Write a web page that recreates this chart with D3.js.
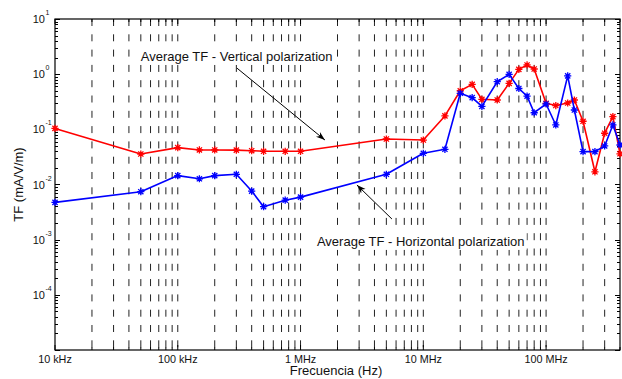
<!DOCTYPE html>
<html><head><meta charset="utf-8">
<script src="https://cdn.jsdelivr.net/npm/d3@7"></script>
<style>body{margin:0;background:#fff}svg{display:block}text{font-family:"Liberation Sans",Arial,sans-serif;fill:#111}</style>
</head><body><svg id="c" width="622" height="379"></svg>
<script>
const freqs = [1e4,5e4,1e5,1.5e5,2e5,3e5,4e5,5e5,7.5e5,1e6,5e6,1e7,1.5e7,2e7,2.5e7,3e7,4e7,5e7,6e7,7e7,8e7,1e8,1.2e8,1.5e8,1.7e8,2e8,2.5e8,3e8,3.5e8,4e8];
const vertical = [0.104,0.0357,0.0466,0.0423,0.0423,0.042,0.041,0.040,0.040,0.040,0.0668,0.064,0.175,0.50,0.654,0.35,0.34,0.68,1.22,1.47,1.24,0.296,0.27,0.30,0.34,0.14,0.017,0.085,0.17,0.036];
const horizontal = [0.00475,0.0074,0.0145,0.0127,0.0145,0.0153,0.0076,0.00396,0.0052,0.0059,0.0153,0.0368,0.0435,0.45,0.375,0.26,0.73,0.99,0.55,0.40,0.20,0.288,0.12,0.93,0.224,0.0394,0.0394,0.050,0.12,0.052];
const xTickVals = [1e4,1e5,1e6,1e7,1e8];
const xTickLabels = ["10 kHz","100 kHz","1 MHz","10 MHz","100 MHz"];
const yExps = [1,0,-1,-2,-3,-4];
const annV = {text:"Average TF - Vertical polarization", at:[5e4,1.75], from:[3.03e5,1.29], to:[1.58e6,0.064]};
const annH = {text:"Average TF - Horizontal polarization", at:[1.36e6,7.7e-4], from:[5.55e6,2.37e-3], to:[2.88e6,0.0098]};

const svg = d3.select("#c");
const L=55,R=620,T=19,B=350;
const x = d3.scaleLog().domain([1e4,4e8]).range([L,R]);
const y = d3.scaleLog().domain([1e-5,10]).range([B,T]);

const xGrid=[];
for(let d=1e4; d<4e8; d*=10){ for(let m=1;m<=9;m++){ const v=d*m; if(v<=4e8) xGrid.push(v);} }
svg.append("g").selectAll("line").data(xGrid.filter(v=>v>1e4&&v<4e8)).join("line")
  .attr("x1",d=>x(d)).attr("x2",d=>x(d)).attr("y1",T).attr("y2",B)
  .attr("stroke","#222").attr("stroke-width",1).attr("stroke-dasharray","7,8.3");

const yTicks=[];
for(let e=-5;e<1;e++){ for(let m=1;m<=9;m++) yTicks.push(m*Math.pow(10,e)); }
yTicks.push(10);
const tk = svg.append("g").attr("stroke","#000").attr("stroke-width",1);
yTicks.forEach(v=>{
  const major = Math.abs(Math.log10(v)-Math.round(Math.log10(v)))<1e-9;
  const len = major?5:3;
  const yy = Math.round(y(v))+0.5;
  tk.append("line").attr("x1",L).attr("x2",L+len).attr("y1",yy).attr("y2",yy);
  tk.append("line").attr("x1",R).attr("x2",R-len).attr("y1",yy).attr("y2",yy);
});
xGrid.forEach(v=>{
  const major = Math.abs(Math.log10(v)-Math.round(Math.log10(v)))<1e-9;
  const len = major?5:3;
  const xx = x(v);
  tk.append("line").attr("x1",xx).attr("x2",xx).attr("y1",B).attr("y2",B-len);
  tk.append("line").attr("x1",xx).attr("x2",xx).attr("y1",T).attr("y2",T+len);
});

svg.append("rect").attr("x",L).attr("y",T).attr("width",R-L).attr("height",B-T)
  .attr("fill","none").attr("stroke","#000").attr("stroke-width",1.2);

svg.append("g").selectAll("text").data(xTickVals).join("text")
  .attr("x",d=>x(d)).attr("y",362.5).attr("text-anchor","middle").attr("font-size",10.8)
  .text((d,i)=>xTickLabels[i]);

const yl = svg.append("g");
yExps.forEach(e=>{
  const yy=y(Math.pow(10,e));
  yl.append("text").attr("x",45).attr("y",yy+4).attr("text-anchor","end").attr("font-size",11).text("10");
  yl.append("text").attr("x",45.5).attr("y",yy-4).attr("font-size",7).text(String(e));
});

svg.append("text").attr("x",336).attr("y",375).attr("text-anchor","middle").attr("font-size",13).text("Frecuencia (Hz)");
svg.append("text").attr("transform",`translate(23,${(T+B)/2}) rotate(-90)`).attr("text-anchor","middle").attr("font-size",13).text("TF (mA/V/m)");

function series(vals,color){
  const pts = freqs.map((f,i)=>[x(f),y(vals[i])]);
  svg.append("path").attr("d",d3.line()(pts)).attr("fill","none").attr("stroke",color).attr("stroke-width",1.6).attr("stroke-linejoin","round");
  const g=svg.append("g").attr("stroke",color).attr("stroke-width",1.3);
  pts.forEach(([px,py])=>{
    const a=3.6,b=2.6;
    g.append("path").attr("d",`M${px-a},${py}H${px+a}M${px},${py-a}V${py+a}M${px-b},${py-b}L${px+b},${py+b}M${px-b},${py+b}L${px+b},${py-b}`);
  });
}
series(vertical,"#ff0000");
series(horizontal,"#0000ff");

svg.append("defs").append("marker").attr("id","ah").attr("viewBox","0 0 10 10").attr("refX",10).attr("refY",5)
  .attr("markerWidth",9).attr("markerHeight",9).attr("orient","auto").attr("markerUnits","userSpaceOnUse")
  .append("path").attr("d","M0,1.5L10,5L0,8.5L3,5Z").attr("fill","#000");
[annV,annH].forEach(a=>{
  const bg = svg.append("rect").attr("fill","#fff");
  const t = svg.append("text").attr("x",x(a.at[0])).attr("y",y(a.at[1])).attr("font-size",13).text(a.text);
  const bb = t.node().getBBox();
  bg.attr("x",bb.x-2).attr("y",bb.y-1).attr("width",bb.width+4).attr("height",bb.height+2);
  svg.append("line").attr("x1",x(a.from[0])).attr("y1",y(a.from[1])).attr("x2",x(a.to[0])).attr("y2",y(a.to[1]))
    .attr("stroke","#000").attr("stroke-width",1).attr("marker-end","url(#ah)");
});
</script></body></html>
